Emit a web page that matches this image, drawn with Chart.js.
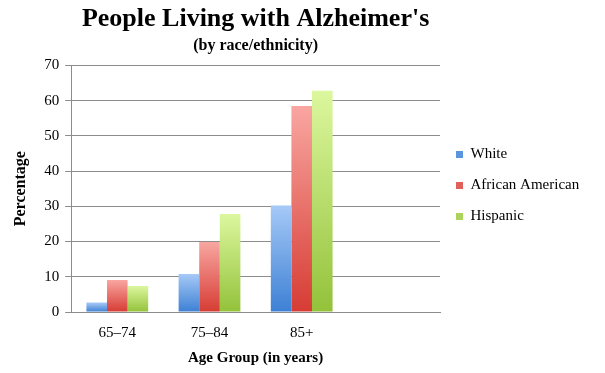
<!DOCTYPE html>
<html>
<head>
<meta charset="utf-8">
<script src="https://cdn.jsdelivr.net/npm/chart.js@4.4.0/dist/chart.umd.min.js"></script>
<style>
  html, body { margin: 0; padding: 0; background: #fff; }
  #wrap { width: 605px; height: 373px; }
</style>
</head>
<body>
<div id="wrap"><canvas id="myChart" width="605" height="373"></canvas></div>
<script>
// age groups (last one is empty in the original)
var ageGroups = ["65\u201374", "75\u201384", "85+", ""];
var white = [2.7, 10.8, 30.2, null];
var africanAmerican = [9.1, 19.9, 58.5, null];
var hispanic = [7.4, 27.8, 62.8, null];
var yTicks = [0, 10, 20, 30, 40, 50, 60, 70];

var serif = "'Liberation Serif', 'DejaVu Serif', serif";

// vertical gradient for each bar, light on top and dark at the bottom
function barGradient(light, dark) {
    return function (context) {
        var chart = context.chart;
        var y = chart.scales && chart.scales.y;
        var v = context.raw;
        if (!chart.chartArea || !y || v == null) {
            return dark;
        }
        var top = y.getPixelForValue(v);
        var bottom = y.getPixelForValue(0);
        if (bottom - top < 1) top = bottom - 1;
        var g = chart.ctx.createLinearGradient(0, top, 0, bottom);
        g.addColorStop(0, light);
        g.addColorStop(1, dark);
        return g;
    };
}

var ctx = document.getElementById("myChart").getContext("2d");

var myChart = new Chart(ctx, {
    type: "bar",
    data: {
        labels: ageGroups,
        datasets: [
            {
                label: "White",
                data: white,
                backgroundColor: barGradient("#a6c9f7", "#3d80d4"),
                borderWidth: 0
            },
            {
                label: "African American",
                data: africanAmerican,
                backgroundColor: barGradient("#f9a6a1", "#d63c33"),
                borderWidth: 0
            },
            {
                label: "Hispanic",
                data: hispanic,
                backgroundColor: barGradient("#dcf79e", "#93c23a"),
                borderWidth: 0
            }
        ]
    },
    options: {
        responsive: false,
        animation: false,
        devicePixelRatio: 1,
        categoryPercentage: 0.67,
        barPercentage: 1,
        layout: {
            padding: { top: 4, right: 22, bottom: 6, left: 11 }
        },
        plugins: {
            title: {
                display: true,
                text: "People Living with Alzheimer's",
                fullSize: false,
                color: "#000",
                font: { family: serif, size: 26, weight: "bold" },
                padding: { top: 0, bottom: 1 }
            },
            subtitle: {
                display: true,
                text: "(by race/ethnicity)",
                fullSize: false,
                color: "#000",
                font: { family: serif, size: 16, weight: "bold" },
                padding: { top: 0, bottom: 10 }
            },
            legend: {
                position: "right",
                labels: {
                    color: "#000",
                    font: { family: serif, size: 15 },
                    boxWidth: 7,
                    boxHeight: 7,
                    padding: 16,
                    generateLabels: function (chart) {
                        var cols = ["#5b95de", "#e0605a", "#aad45c"];
                        return chart.data.datasets.map(function (ds, i) {
                            return {
                                text: ds.label,
                                fillStyle: cols[i],
                                strokeStyle: cols[i],
                                lineWidth: 0,
                                datasetIndex: i,
                                fontColor: "#000"
                            };
                        });
                    }
                }
            },
            tooltip: { enabled: false }
        },
        scales: {
            x: {
                grid: { display: false, drawTicks: false },
                border: { display: true, color: "#8c8c8c", width: 1 },
                ticks: {
                    color: "#000",
                    font: { family: serif, size: 15 },
                    padding: 12
                },
                title: {
                    display: true,
                    text: "Age Group (in years)",
                    color: "#000",
                    font: { family: serif, size: 15, weight: "bold" },
                    padding: { top: -5, bottom: 0 }
                }
            },
            y: {
                min: 0,
                max: 70,
                afterBuildTicks: function (axis) {
                    axis.ticks = yTicks.map(function (v) { return { value: v }; });
                },
                grid: {
                    color: "#8c8c8c",
                    lineWidth: 1,
                    tickLength: 6
                },
                border: { display: true, color: "#8c8c8c", width: 1 },
                ticks: {
                    color: "#000",
                    font: { family: serif, size: 15 },
                    padding: 6
                },
                title: {
                    display: true,
                    text: "Percentage",
                    color: "#000",
                    font: { family: serif, size: 16, weight: "bold" },
                    padding: { top: 0, bottom: 8 }
                }
            }
        }
    }
});
</script>
</body>
</html>
